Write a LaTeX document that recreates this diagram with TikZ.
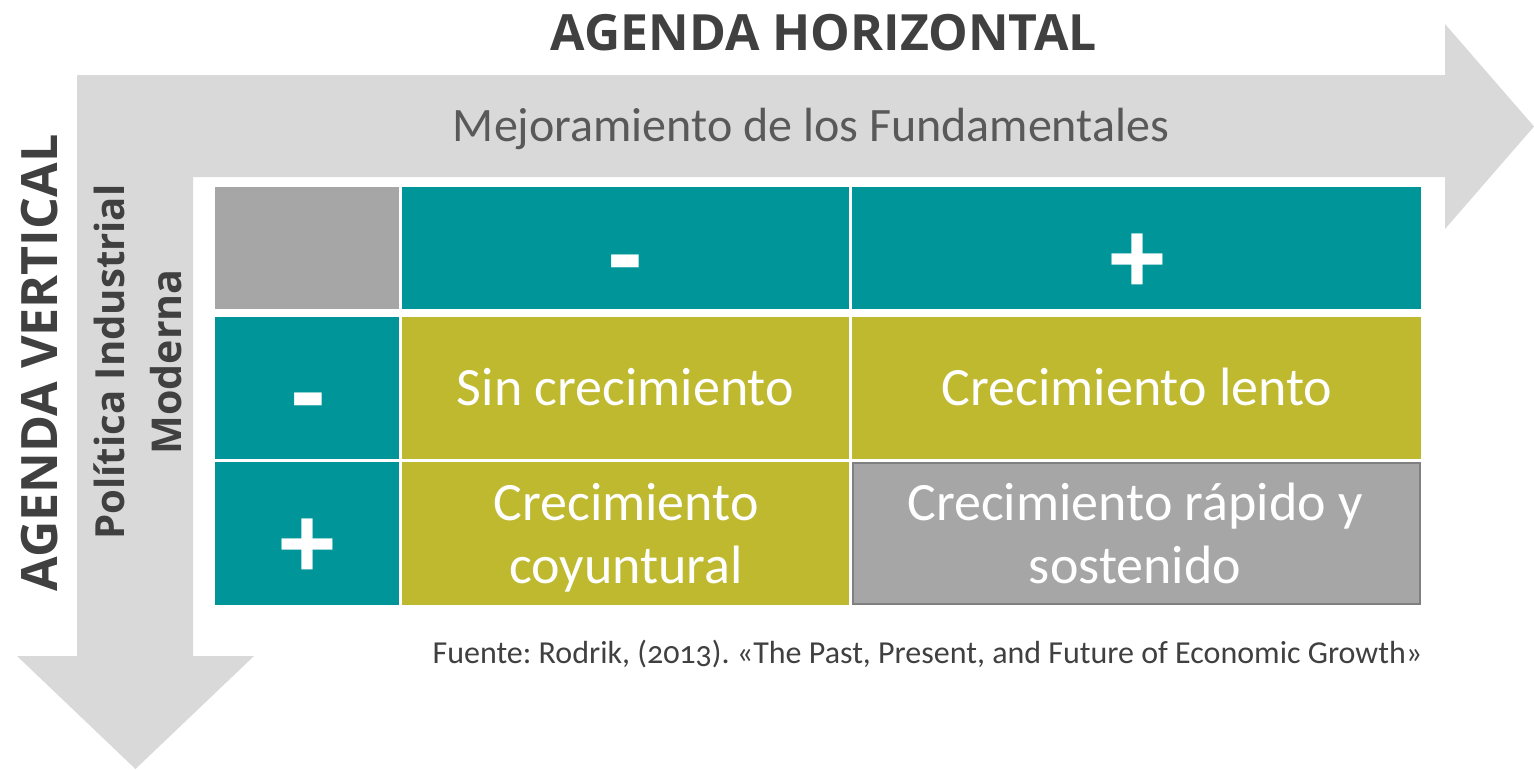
\documentclass[tikz,border=0pt]{standalone}
\usepackage{fontspec}
\setmainfont{Carlito}[Numbers=OldStyle]
\newfontfamily\osans{Open Sans}
\definecolor{arrowgray}{HTML}{D9D9D9}
\definecolor{tealc}{HTML}{009699}
\definecolor{olivec}{HTML}{BFB92F}
\definecolor{cellgray}{HTML}{A6A6A6}
\definecolor{darktext}{HTML}{404040}
\definecolor{midtext}{HTML}{595959}
\definecolor{bordergray}{HTML}{808080}
\frenchspacing
\tikzset{
  cell/.style={draw=none, inner sep=0pt, outer sep=0pt},
  celltext/.style={text=white, inner sep=0pt, align=center, font=\fontsize{54}{63}\selectfont},
  sym/.style={text=white, inner sep=0pt, font=\osans\bfseries\fontsize{105}{110}\selectfont},
  title/.style={text=darktext, inner sep=0pt}
}
\begin{document}
\begin{tikzpicture}[x=1pt,y=-1pt]
\useasboundingbox (0,0) rectangle (1534,769);
% arrows
\fill[arrowgray] (77,75) -- (1445,75) -- (1445,24) -- (1534,126.5) -- (1445,229) -- (1445,177)
  -- (193,177) -- (193,656) -- (254,656) -- (135.5,769) -- (17,656) -- (77,656) -- cycle;
% titles
\node[title] (ah) at (824,33) {\resizebox{546pt}{!}{\osans\bfseries AGENDA HORIZONTAL}};
\node[title, rotate=90] (av) at (40,363) {\resizebox{457pt}{!}{\osans\bfseries AGENDA VERTICAL}};
\node[title, rotate=90] (pi) at (109,362) {\resizebox{355pt}{!}{\osans\bfseries Política Industrial}};
\node[title, rotate=90] (mo) at (166,362) {\resizebox{185pt}{!}{\osans\bfseries Moderna}};
\node[text=midtext, inner sep=0pt, anchor=base, font=\fontsize{48}{55}\selectfont] (mf) at (811,141) {Mejoramiento de los Fundamentales};
% cells
\node[cell, fill=cellgray, minimum width=184pt, minimum height=122pt] (c00) at (307,248) {};
\node[cell, fill=tealc, minimum width=447pt, minimum height=122pt] (c01) at (625.5,248) {};
\node[cell, fill=tealc, minimum width=569pt, minimum height=122pt] (c02) at (1136.5,248) {};
\node[cell, fill=tealc, minimum width=184pt, minimum height=142pt] (c10) at (307,388) {};
\node[cell, fill=olivec, minimum width=447pt, minimum height=142pt] (c11) at (625.5,388) {};
\node[cell, fill=olivec, minimum width=569pt, minimum height=142pt] (c12) at (1136.5,388) {};
\node[cell, fill=tealc, minimum width=184pt, minimum height=143pt] (c20) at (307,533.5) {};
\node[cell, fill=olivec, minimum width=447pt, minimum height=143pt] (c21) at (625.5,533.5) {};
\node[cell, fill=cellgray, draw=bordergray, line width=2pt, minimum width=567pt, minimum height=141pt] (c22) at (1136,533.5) {};
% symbols
\node[sym, anchor=base] (s01) at (625.5,289) {-};
\node[sym, anchor=base] (s02) at (1137,296) {+};
\node[sym, anchor=base] (s10) at (308,427) {-};
\node[sym, anchor=base] (s20) at (307,581) {+};
% cell texts
\node[celltext, anchor=base] (t11) at (625.5,405) {Sin crecimiento};
\node[celltext, anchor=base] (t12) at (1137,405) {Crecimiento lento};
\node[celltext, anchor=base] (t21) at (626,583) {Crecimiento\\coyuntural};
\node[celltext, anchor=base] (t22) at (1135,583) {Crecimiento rápido y\\sostenido};
% source
\node[text=darktext, inner sep=0pt, anchor=base, font=\fontsize{32}{38}\selectfont] (src) at (927.5,663) {Fuente: Rodrik, (2013). «The Past, Present, and Future of Economic Growth»};
\end{tikzpicture}
\end{document}
